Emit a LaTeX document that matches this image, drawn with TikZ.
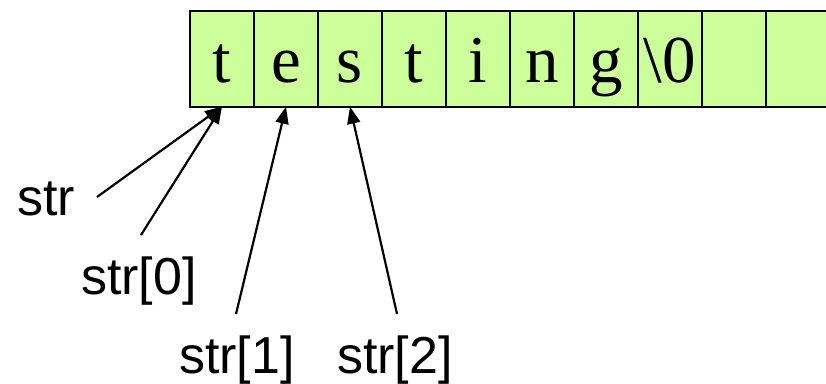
\documentclass[tikz,border=0pt]{standalone}
\usepackage{fontspec}
\setmainfont{Liberation Serif}
\newfontfamily\labelfont{Liberation Sans}
\usetikzlibrary{arrows.meta}
\definecolor{cellgreen}{RGB}{204,255,153}
\tikzset{
  cellbox/.style={draw=black, line width=1.6pt, fill=cellgreen, inner sep=0pt, outer sep=0pt,
    minimum width=64pt, text height=71.3pt, text depth=24.7pt,
    font=\fontsize{67}{70}\selectfont},
  lbl/.style={anchor=base west, inner sep=0pt, font=\labelfont\fontsize{52}{56}\selectfont},
  ptr/.style={line width=2.2pt, -{Triangle[length=17pt,width=13pt]}}
}
\begin{document}
\begin{tikzpicture}[x=1pt,y=-1pt]
\useasboundingbox (0,0) rectangle (826,383);
\clip (0,0) rectangle (826,383);
\foreach \ch [count=\i from 0] in {t,e,s,t,i,n,g,\textbackslash 0,{},{}} {
  \node[cellbox] (c\i) at ({222+64*\i},58.7) {\ch};
}
\node[lbl] (l0) at (17,215) {str};
\node[lbl] (l1) at (81,294) {str[0]};
\node[lbl] (l2) at (179,373) {str[1]};
\node[lbl] (l3) at (337,373) {str[2]};
\coordinate (t0) at (97,197);
\coordinate (t1) at (141,235);
\coordinate (t2) at (236,314);
\coordinate (t3) at (397,314);
\draw[ptr] (t0) -- (c0.south);
\draw[ptr] (t1) -- (c0.south);
\draw[ptr] (t2) -- (c1.south);
\draw[ptr] (t3) -- (c2.south);
\end{tikzpicture}
\end{document}
